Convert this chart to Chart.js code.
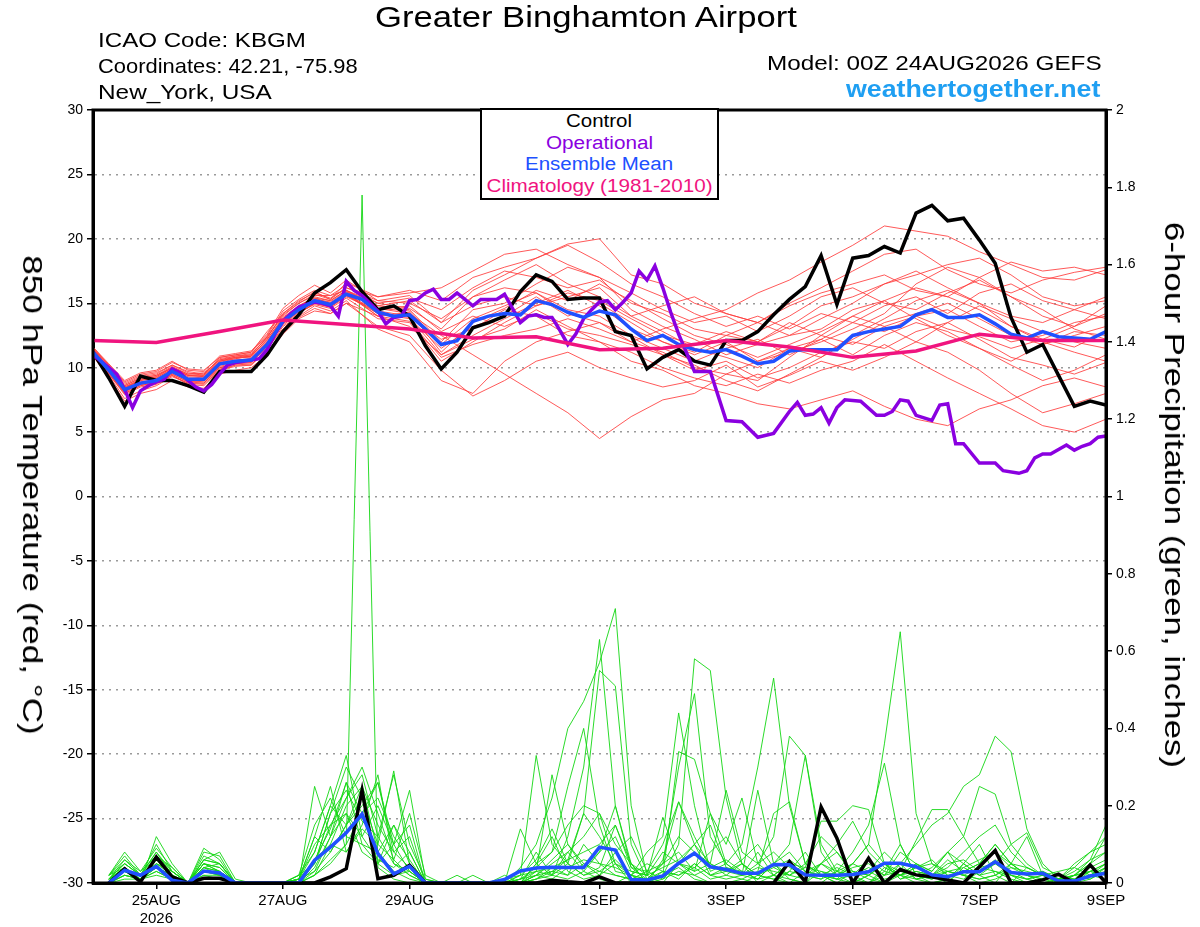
<!DOCTYPE html>
<html>
<head>
<meta charset="utf-8">
<script src="https://cdn.jsdelivr.net/npm/chart.js@4.4.0/dist/chart.umd.min.js"></script>
<style>
  body { margin: 0; background: #fff; font-family: "Liberation Sans", Arial, sans-serif; }
  #wrap { position: relative; width: 1200px; height: 927px; overflow: hidden; }
  canvas { position: absolute; left: 0; top: 0; }
  .t { position: absolute; white-space: nowrap; color: #000; transform-origin: left center; }
  .rot { transform-origin: center center; }
  #legend { position: absolute; left: 480px; top: 108px; width: 235px; height: 87px; border: 2px solid #000;
            background: #fff; text-align: center; font-size: 18px; line-height: 21.7px; padding-top: 1px; }
  #legend span { display: inline-block; white-space: nowrap; transform-origin: center center; }
</style>
</head>
<body>
<div id="wrap">
  <canvas id="chart" width="1200" height="927"></canvas>
  <div class="t" data-w="422" style="left:375px;top:1px;font-size:29px;">Greater Binghamton Airport</div>
  <div class="t" data-w="208" style="left:98px;top:28px;font-size:21px;">ICAO Code: KBGM</div>
  <div class="t" data-w="260" style="left:98px;top:54px;font-size:21px;">Coordinates: 42.21, -75.98</div>
  <div class="t" data-w="174" style="left:98px;top:80px;font-size:21px;">New_York, USA</div>
  <div class="t" data-w="334" style="left:767px;top:51px;font-size:21px;">Model: 00Z 24AUG2026 GEFS</div>
  <div class="t" data-w="255" style="left:846px;top:76px;font-size:23px;font-weight:bold;color:#1f9ff2;">weathertogether.net</div>
  <div class="t rot" data-w="480" data-pre="translate(-50%,-50%) rotate(90deg)" style="left:32px;top:495px;font-size:28px;">850 hPa Temperature (red, °C)</div>
  <div class="t rot" data-w="546" data-pre="translate(-50%,-50%) rotate(90deg)" style="left:1174px;top:495px;font-size:28px;">6-hour Precipitation (green, inches)</div>
  <div id="legend">
    <div><span data-w="66" style="color:#000">Control</span></div>
    <div><span data-w="107" style="color:#8a00e0">Operational</span></div>
    <div><span data-w="148" style="color:#2050ff">Ensemble Mean</span></div>
    <div><span data-w="226" style="color:#f0147f">Climatology (1981-2010)</span></div>
  </div>
</div>
<script>
// forecast hours since 00Z 24AUG2026
const tickHours = [24, 72, 120, 192, 240, 288, 336, 384];
const tickLabels = [['25AUG', '2026'], '27AUG', '29AUG', '1SEP', '3SEP', '5SEP', '7SEP', '9SEP'];

// 6-hourly steps 0..384
const stepHours = [];
for (let h = 0; h <= 384; h += 6) stepHours.push(h);
const precipHours = stepHours.slice(1);

// control run 850 hPa temp
const controlTemp = [11.2, 9.2, 7.0, 9.35, 9.0, 9.0, 8.6, 8.1, 9.7, 9.7, 9.7, 11.0, 12.8, 14.1, 15.8, 16.6, 17.6,
  15.9, 14.5, 14.8, 14.0, 11.7, 9.9, 11.2, 13.1, 13.5, 14.0, 15.9, 17.2, 16.7, 15.3, 15.4, 15.4,
  12.8, 12.5, 9.9, 10.8, 11.4, 10.5, 10.2, 12.1, 12.1, 12.8, 14.1, 15.3, 16.3, 18.7, 14.9, 18.5,
  18.7, 19.4, 18.9, 22.0, 22.6, 21.4, 21.6, 19.9, 18.1, 13.9, 11.2, 11.8, 9.4, 7.0, 7.4, 7.1];

// ensemble mean 850 hPa temp
const meanTemp = [11.2, 9.8, 8.3, 8.8, 9.0, 9.7, 9.1, 9.1, 10.3, 10.5, 10.6, 11.8, 13.6, 14.5, 15.2, 14.9, 15.7,
  15.3, 14.3, 14.0, 14.1, 13.0, 11.8, 12.1, 13.6, 14.0, 14.2, 14.1, 15.2, 14.9, 14.3, 13.9, 14.4,
  14.1, 13.0, 12.1, 12.5, 11.8, 11.4, 11.2, 11.4, 10.9, 10.3, 10.5, 11.3, 11.4, 11.4, 11.4, 12.5,
  12.8, 13.0, 13.2, 14.1, 14.5, 13.9, 13.9, 14.1, 13.4, 12.6, 12.3, 12.8, 12.4, 12.3, 12.2, 12.8];

// operational GFS (3-hourly where visible)
const opHours = [0, 3, 6, 9, 12, 15, 18, 21, 24, 27, 30, 33, 36, 39, 42, 45, 48, 51, 54, 57, 60, 63, 66, 69,
  72, 75, 78, 81, 84, 87, 90, 93, 96, 99, 102, 105, 108, 111, 114, 117, 120, 123, 126, 129, 132, 135,
  138, 141, 144, 147, 150, 153, 156, 159, 162, 165, 168, 171, 174, 177, 180, 183, 186, 189, 192, 195,
  198, 201, 204, 207, 210, 213, 216, 219, 222, 228, 234, 240, 246, 252, 258, 264, 267, 270, 273, 276,
  279, 282, 285, 291, 297, 300, 303, 306, 309, 312, 318, 321, 324, 327, 330, 336, 342, 345, 351, 354,
  357, 360, 363, 369, 372, 375, 378, 381, 384];
const opTemp = [11.0, 10.5, 10.0, 9.5, 8.3, 6.9, 8.2, 8.6, 8.9, 9.1, 9.9, 9.6, 9.0, 8.5, 8.2, 8.7, 9.5, 10.2,
  10.4, 10.5, 10.6, 10.7, 11.4, 12.6, 13.6, 14.2, 14.7, 14.9, 15.1, 15.0, 14.8, 14.0, 16.7, 16.0, 15.6,
  15.0, 14.4, 13.4, 13.9, 14.0, 15.2, 15.3, 15.8, 16.1, 15.3, 15.3, 15.8, 15.3, 14.8, 15.3, 15.3, 15.3,
  15.7, 14.6, 13.5, 14.0, 14.1, 13.9, 13.9, 12.9, 11.8, 12.6, 13.8, 14.5, 15.1, 15.2, 14.5, 15.1, 15.8,
  17.5, 16.8, 17.9, 16.2, 14.3, 12.6, 9.7, 9.7, 5.9, 5.8, 4.6, 4.9, 6.6, 7.3, 6.3, 6.4, 6.9, 5.7, 6.9,
  7.5, 7.4, 6.3, 6.3, 6.6, 7.5, 7.4, 6.3, 5.9, 7.1, 7.2, 4.1, 4.1, 2.6, 2.6, 2.0, 1.8, 2.0, 3.0, 3.3,
  3.3, 4.0, 3.6, 3.9, 4.1, 4.6, 4.7];

// 1981-2010 climatology
const climHours = [0, 24, 48, 72, 96, 120, 144, 168, 192, 216, 240, 264, 288, 312, 336, 360, 384];
const climTemp = [12.1, 11.95, 12.8, 13.7, 13.35, 13.0, 12.3, 12.4, 11.4, 11.5, 12.1, 11.6, 10.8, 11.3, 12.6, 12.1, 12.1];

// ensemble members, 6-hourly to 96 h then 12-hourly
const memberHours = [0, 6, 12, 18, 24, 30, 36, 42, 48, 54, 60, 66, 72, 78, 84, 90, 96,
  108, 120, 132, 144, 156, 168, 180, 192, 204, 216, 228, 240, 252, 264, 276, 288, 300, 312, 324, 336, 348, 360, 372, 384];
const memberTemps = [
  [11.5, 10.2, 8.8, 9.4, 9.6, 10.2, 9.6, 9.4, 10.8, 11.0, 11.2, 12.8, 14.2, 15.2, 15.8, 15.4, 16.2,
   15.5, 16.0, 15.2, 17.0, 17.8, 18.5, 19.6, 20.0, 17.2, 16.5, 15.0, 14.2, 13.5, 15.0, 16.2, 17.5, 18.8, 19.2, 17.6, 16.5, 15.8, 16.8, 17.4, 17.8],
  [11.0, 9.4, 7.6, 8.2, 8.6, 9.3, 8.8, 8.7, 9.8, 10.2, 10.2, 11.4, 13.2, 14.0, 14.8, 14.4, 15.2,
   13.0, 12.0, 9.0, 8.0, 10.5, 12.0, 12.8, 13.5, 12.4, 11.0, 9.8, 10.5, 9.2, 10.0, 11.2, 12.0, 11.5, 12.8, 13.5, 12.2, 10.8, 10.2, 9.5, 10.4],
  [11.3, 9.9, 8.4, 9.0, 9.3, 10.0, 9.4, 9.3, 10.5, 10.8, 10.8, 12.0, 13.8, 14.8, 15.4, 15.2, 16.0,
   14.6, 14.2, 12.5, 11.0, 9.5, 8.0, 6.5, 4.5, 6.2, 7.5, 8.0, 9.5, 9.0, 10.8, 12.5, 11.8, 13.2, 14.0, 13.0, 12.4, 11.5, 12.2, 11.6, 12.8],
  [11.6, 10.3, 9.0, 9.6, 9.8, 10.5, 9.8, 9.7, 10.9, 11.1, 11.3, 12.6, 14.6, 15.6, 16.4, 15.8, 16.8,
   15.2, 15.0, 13.8, 15.5, 16.2, 15.8, 14.2, 13.5, 12.0, 13.0, 13.8, 14.5, 15.8, 16.8, 18.2, 19.5, 21.0, 20.6, 20.2, 19.0, 18.0, 17.0, 16.8, 17.6],
  [10.9, 9.2, 7.4, 8.0, 8.3, 9.0, 8.5, 8.4, 9.5, 9.8, 10.0, 11.0, 12.6, 13.8, 14.4, 14.2, 15.0,
   14.0, 13.2, 11.0, 12.2, 13.0, 14.5, 13.2, 12.0, 10.5, 9.8, 8.6, 8.0, 7.2, 6.8, 7.5, 8.2, 7.0, 6.0, 5.5, 6.8, 7.5, 8.6, 9.2, 8.5],
  [11.4, 10.0, 8.6, 9.2, 9.4, 10.1, 9.5, 9.6, 10.6, 10.9, 11.0, 12.4, 14.0, 15.0, 15.6, 15.6, 16.4,
   15.0, 15.4, 14.5, 16.2, 17.5, 17.0, 16.2, 16.8, 15.0, 14.2, 13.0, 12.5, 12.0, 13.2, 14.8, 15.5, 16.5, 17.2, 18.0, 18.5, 17.2, 15.5, 14.8, 15.2],
  [11.1, 9.6, 8.0, 8.6, 8.9, 9.5, 8.9, 9.0, 10.0, 10.3, 10.4, 11.6, 13.4, 14.3, 14.9, 14.6, 15.4,
   13.8, 13.5, 10.5, 12.0, 13.5, 14.8, 15.5, 16.2, 14.0, 12.8, 11.5, 10.8, 10.0, 11.5, 10.8, 12.2, 13.5, 14.2, 15.0, 13.8, 12.5, 11.8, 12.5, 13.2],
  [11.2, 9.7, 8.2, 8.7, 8.8, 9.4, 8.8, 8.8, 9.9, 10.2, 10.3, 11.2, 12.8, 13.9, 14.6, 14.2, 15.0,
   13.2, 12.5, 9.8, 7.8, 9.0, 10.5, 11.2, 10.0, 9.2, 8.5, 9.0, 10.2, 8.5, 9.4, 10.5, 9.8, 10.8, 12.0, 11.2, 9.8, 8.0, 6.5, 7.2, 8.0],
  [11.5, 10.1, 8.7, 9.3, 9.5, 10.2, 9.7, 9.5, 10.7, 10.9, 11.1, 12.3, 14.2, 15.1, 15.9, 15.3, 16.6,
   15.5, 15.8, 16.2, 17.5, 18.8, 19.2, 18.0, 17.0, 15.8, 14.5, 13.5, 14.0, 12.8, 14.0, 15.5, 16.2, 15.0, 14.5, 15.8, 16.8, 15.5, 14.0, 13.2, 14.2],
  [11.0, 9.5, 7.9, 8.5, 8.7, 9.4, 8.7, 8.6, 9.8, 10.1, 10.2, 11.5, 13.0, 14.2, 15.0, 14.8, 15.6,
   14.5, 14.8, 12.8, 14.0, 13.2, 14.2, 13.0, 12.5, 11.8, 11.0, 10.2, 9.0, 8.2, 9.5, 10.8, 12.5, 13.8, 15.2, 16.0, 15.0, 13.2, 12.0, 11.2, 10.5],
  [11.4, 9.9, 8.5, 9.0, 9.2, 9.9, 9.3, 9.2, 10.4, 10.7, 10.9, 12.1, 13.6, 14.6, 15.4, 15.0, 15.8,
   14.2, 13.8, 11.5, 13.2, 14.0, 15.5, 14.0, 15.0, 13.5, 12.0, 11.0, 12.0, 10.5, 11.2, 12.0, 13.0, 14.2, 16.5, 17.8, 17.0, 15.5, 14.5, 13.0, 12.2],
  [11.3, 9.8, 8.3, 8.9, 9.1, 9.8, 9.2, 9.1, 10.3, 10.6, 10.7, 11.9, 13.5, 14.5, 15.2, 14.9, 15.9,
   14.8, 14.5, 12.0, 14.5, 15.0, 16.5, 17.8, 17.0, 14.5, 13.2, 12.2, 11.0, 11.8, 12.5, 13.0, 14.5, 15.2, 13.8, 12.5, 11.5, 10.2, 9.0, 9.8, 11.0],
  [11.2, 9.7, 8.1, 8.7, 9.0, 9.6, 9.0, 8.9, 10.1, 10.4, 10.5, 11.7, 13.3, 14.2, 15.0, 14.7, 15.5,
   14.4, 14.0, 12.2, 13.0, 14.5, 14.0, 12.5, 12.0, 11.2, 10.0, 9.2, 8.6, 9.5, 8.8, 9.8, 10.5, 11.8, 10.5, 9.2, 8.0, 6.8, 5.5, 5.0, 6.0],
  [11.6, 10.2, 8.9, 9.5, 9.7, 10.4, 9.9, 9.8, 10.8, 11.0, 11.2, 12.5, 14.4, 15.3, 16.0, 15.6, 16.0,
   15.0, 14.6, 13.0, 15.5, 16.8, 18.0, 16.5, 15.5, 14.0, 14.8, 15.5, 14.2, 13.5, 12.5, 13.8, 15.0, 16.5, 17.5, 16.2, 15.0, 14.0, 13.5, 14.5, 15.5],
  [11.0, 9.5, 8.0, 8.6, 8.8, 9.5, 8.9, 8.8, 10.0, 10.3, 10.4, 11.7, 13.4, 14.4, 15.0, 14.7, 15.6,
   14.2, 13.9, 11.0, 12.5, 13.8, 15.0, 16.0, 14.8, 13.0, 12.0, 11.2, 12.5, 13.5, 14.8, 15.8, 16.5, 17.2, 16.0, 15.5, 17.0, 18.2, 17.5, 17.8, 17.2],
  [11.3, 9.9, 8.4, 9.1, 9.2, 9.9, 9.4, 9.4, 10.5, 10.7, 10.9, 12.2, 13.8, 14.7, 15.3, 15.1, 15.9,
   14.6, 14.4, 11.8, 13.8, 14.8, 15.8, 14.5, 14.0, 12.5, 11.5, 10.5, 11.5, 12.2, 11.0, 12.2, 13.5, 12.8, 14.0, 14.5, 13.2, 12.0, 12.5, 13.5, 14.0],
  [11.1, 9.6, 8.1, 8.8, 9.0, 9.6, 9.1, 9.0, 10.2, 10.5, 10.6, 11.8, 13.5, 14.4, 15.1, 14.8, 15.7,
   14.0, 14.3, 11.2, 13.5, 14.6, 16.0, 15.2, 16.5, 15.2, 13.8, 12.5, 11.8, 10.8, 11.8, 12.8, 14.0, 13.2, 12.0, 13.5, 14.8, 13.8, 12.8, 12.0, 11.5],
  [11.5, 10.0, 8.6, 9.2, 9.4, 10.0, 9.5, 9.5, 10.6, 10.8, 11.0, 12.4, 14.1, 15.0, 15.7, 15.3, 16.2,
   15.2, 15.6, 13.5, 16.0, 17.2, 18.5, 19.5, 18.2, 16.5, 15.5, 14.2, 13.2, 14.0, 13.0, 14.2, 13.5, 14.8, 15.5, 14.2, 15.8, 16.5, 15.2, 14.5, 13.8],
  [11.2, 9.7, 8.2, 8.8, 9.0, 9.7, 9.0, 9.0, 10.2, 10.5, 10.6, 11.8, 13.6, 14.6, 15.2, 15.0, 15.8,
   14.0, 13.6, 10.8, 11.8, 12.5, 13.0, 13.8, 13.0, 12.0, 11.2, 10.0, 9.5, 10.5, 11.5, 12.2, 11.0, 12.5, 13.5, 12.8, 11.5, 10.5, 11.8, 12.8, 12.5],
  [11.4, 10.0, 8.5, 9.1, 9.3, 10.0, 9.4, 9.3, 10.5, 10.8, 10.9, 12.2, 13.9, 14.8, 15.5, 15.2, 16.0,
   14.8, 15.2, 13.5, 14.8, 15.5, 14.8, 15.8, 15.2, 13.8, 12.5, 11.8, 12.8, 12.0, 13.5, 12.5, 14.0, 15.2, 16.2, 15.5, 14.5, 13.2, 12.2, 13.2, 14.8]
];

// 6-hour precipitation (inches), valid 6..384 h
const controlPrecip = [0, .037, .003, .067, .016, 0, .012, .012, 0, 0, 0, 0, 0, 0, .016, .037,
  .24, .011, .02, .046, 0, 0, 0, 0, 0, 0, 0, 0, .007, .003, 0, .016,
  0, 0, 0, 0, 0, 0, 0, 0, 0, 0, 0, .055, .003, .197, .116, 0,
  .064, 0, .035, .021, .016, .008, 0, .042, .084, 0, 0, .008, .023, 0, .047, 0];
const meanPrecip = [0, .033, .02, .043, .007, 0, .031, .026, 0, 0, 0, 0, 0, .059, .093, .13,
  .178, .076, .024, .043, 0, 0, 0, 0, 0, .009, .031, .039, .041, .04, .04, .093,
  .085, .009, .008, .018, .051, .077, .042, .035, .025, .025, .048, .047, .021, .02, .02, .022,
  .029, .051, .051, .042, .021, .016, .029, .029, .055, .027, .023, .025, .005, .005, .018, .025];
const memberPrecips = [
  [0, .03, .01, .05, .02, 0, .04, .03, 0, 0, 0, 0, 0, .02, .06, .10,
   1.78, .04, .01, 0, 0, 0, 0, 0, 0, 0, 0, .05, .12, .03, .01, .02,
   .05, 0, 0, .02, .04, .01, 0, 0, 0, .02, .05, .01, 0, 0, .03, .01,
   0, .04, .02, 0, 0, .01, 0, .03, .06, .02, 0, 0, .01, 0, .02, .04],
  [.02, .06, .02, .08, .03, 0, .07, .05, 0, 0, 0, 0, .01, .12, .25, .08,
   .15, .28, .05, .02, 0, 0, 0, 0, 0, 0, .04, .10, .22, .40, .47, .57,
   .71, .20, .02, 0, .05, .02, 0, 0, .01, 0, 0, .03, .08, .02, 0, 0,
   .02, 0, .05, .01, 0, 0, .04, .02, 0, .05, .12, .02, 0, 0, .01, .03],
  [.01, .04, 0, .12, .05, 0, .06, .08, .01, 0, 0, 0, .02, .05, .18, .30,
   .22, .10, .29, .05, 0, 0, 0, 0, 0, 0, .14, .05, .02, .12, .30, .63,
   .20, .05, 0, .02, .10, .58, .55, .22, .05, 0, .02, .01, 0, .05, .02, 0,
   0, .03, .10, .02, 0, .01, .05, .02, .03, .01, 0, 0, 0, .02, .05, .12],
  [0, .02, .01, .03, .01, 0, .03, .02, 0, 0, 0, 0, 0, .25, .12, .18,
   .08, .05, .10, .24, .01, 0, 0, .02, 0, .01, .02, .33, .10, .05, .18, .55,
   .51, .10, .01, .05, .30, .49, .12, .05, .02, .08, .02, 0, 0, .03, .01, 0,
   .02, .05, .01, .03, .02, 0, .05, .10, .02, 0, .04, .02, 0, 0, .03, .02],
  [.01, .05, .02, .06, .02, 0, .05, .04, 0, 0, 0, 0, .01, .08, .20, .33,
   .12, .06, .04, .08, 0, 0, 0, 0, 0, 0, .01, .03, .28, .10, .05, .03,
   .02, .01, 0, .03, .01, .05, .02, .04, .03, .01, .05, .10, .33, .08, .02, .05,
   .10, .36, .65, .18, .05, .02, .01, .04, .05, .02, .01, 0, 0, .02, .06, .15],
  [.02, .08, .03, .09, .04, 0, .09, .06, 0, 0, 0, 0, .01, .10, .15, .22,
   .28, .12, .05, .03, 0, 0, 0, 0, 0, .02, 0, .05, .08, .15, .20, .18,
   .05, .02, .08, .12, .44, .20, .03, .05, .10, .30, .53, .20, .05, .02, 0, .03,
   .01, 0, .02, .05, .03, .08, .02, 0, .01, .03, .02, .01, 0, 0, .02, .01],
  [0, .01, .01, .02, .01, 0, .02, .01, 0, 0, 0, 0, 0, .04, .12, .22,
   .30, .18, .06, .02, 0, 0, 0, 0, 0, 0, 0, .02, .05, .08, .03, .01,
   0, .02, .05, .03, .02, .04, .01, .02, .05, .02, .01, 0, .03, .05, .08, .02,
   0, .02, .05, .10, .15, .18, .25, .28, .38, .34, .14, .05, .01, 0, .02, .05],
  [.01, .03, .01, .05, .03, 0, .05, .03, 0, 0, 0, 0, .02, .15, .22, .12,
   .10, .08, .15, .05, 0, 0, 0, 0, 0, 0, .01, .08, .02, .05, .02, .04,
   .15, .05, 0, .06, .21, .10, .05, .24, .08, .05, .12, .38, .33, .10, .03, .08,
   .15, .31, .10, .02, .01, .03, .02, .01, .02, .05, .02, 0, .01, .02, .01, .04],
  [.02, .05, .02, .07, .04, 0, .06, .05, 0, 0, 0, 0, .01, .06, .14, .26,
   .18, .22, .12, .06, 0, 0, 0, 0, 0, 0, .02, .03, .04, .06, .18, .12,
   .05, .03, .02, .17, .05, .03, .18, .05, .02, .24, .05, .02, .04, .16, .16, .20,
   .19, .05, .03, .11, .19, .19, .12, .25, .23, .10, .05, .02, 0, .02, .05, .08],
  [0, .02, .01, .04, .02, 0, .03, .02, 0, 0, 0, 0, 0, .03, .08, .15,
   .20, .26, .08, .04, 0, 0, 0, 0, 0, 0, 0, .02, .06, .10, .04, .08,
   .20, .04, .01, .02, .34, .32, .18, .10, .22, .05, .02, .05, .02, .01, .05, .03,
   .02, .05, .01, .02, .04, .08, .05, .02, .05, .10, .13, .04, .02, .01, .03, .05],
  [.01, .04, .01, .06, .02, 0, .04, .03, 0, 0, 0, 0, .01, .05, .18, .24,
   .16, .12, .28, .10, .01, 0, 0, 0, 0, 0, 0, .01, .03, .02, .10, .05,
   .02, .01, .03, .05, .08, .03, .05, .02, .01, .03, .18, .21, .05, .02, .01, .05,
   .10, .05, .02, .05, .03, .08, .12, .05, .10, .05, .02, .01, .02, .01, .02, .04],
  [.02, .07, .02, .10, .03, 0, .08, .07, 0, 0, 0, 0, .02, .08, .20, .15,
   .25, .15, .08, .12, 0, 0, .02, 0, 0, 0, .02, .06, .14, .05, .02, .03,
   .06, .02, 0, .01, .03, .02, .04, .06, .03, .01, .02, .05, .04, .03, .02, .04,
   .05, .02, .08, .05, .02, .06, .03, .05, .08, .05, .02, .03, .01, .04, .08, .10],
  [0, .03, .01, .04, .02, 0, .04, .02, 0, 0, 0, 0, 0, .02, .10, .20,
   .25, .08, .03, .01, 0, 0, 0, 0, 0, 0, 0, .01, .02, .08, .12, .18,
   .10, .05, .02, .08, .05, .10, .02, .01, .02, .04, .03, .02, .01, .05, .10, .16,
   .08, .04, .02, .03, .02, .05, .06, .03, .05, .03, .01, .02, .01, .03, .06, .08],
  [.01, .05, .02, .05, .03, 0, .05, .04, 0, 0, 0, 0, .01, .12, .08, .15,
   .22, .05, .02, .03, 0, 0, 0, 0, 0, 0, .01, .04, .08, .25, .40, .15,
   .03, .02, .01, .05, .12, .08, .05, .03, .02, .01, .05, .08, .03, .02, .04, .02,
   .03, .08, .04, .01, .02, .04, .08, .12, .15, .08, .04, .02, .01, .01, .04, .06],
  [.01, .03, .02, .08, .02, 0, .04, .05, 0, 0, 0, 0, 0, .05, .15, .18,
   .12, .20, .10, .15, 0, 0, 0, 0, 0, 0, 0, .02, .03, .06, .08, .10,
   .15, .04, .03, .10, .21, .12, .04, .03, .05, .02, .01, .03, .02, .05, .03, .02,
   .04, .02, .03, .02, .01, .03, .02, .01, .02, .04, .03, .02, .01, .02, .03, .02],
  [.02, .04, .01, .04, .02, 0, .05, .03, 0, 0, 0, 0, 0, .06, .10, .08,
   .14, .10, .06, .18, .02, 0, 0, 0, 0, 0, .01, .02, .01, .04, .06, .05,
   .04, .02, .01, .03, .02, .05, .02, .03, .06, .10, .04, .02, .05, .12, .08, .03,
   .02, .05, .02, .04, .06, .02, .03, .05, .10, .05, .04, .02, .01, .02, .03, .05],
  [0, .02, .01, .03, .01, 0, .02, .02, 0, 0, 0, 0, 0, .02, .05, .10,
   .18, .26, .10, .03, 0, 0, 0, 0, 0, 0, 0, .01, .04, .02, .05, .02,
   .08, .12, .03, .01, .05, .04, .08, .12, .05, .02, .04, .06, .03, .02, .01, .02,
   .06, .03, .02, .01, .02, .03, .04, .06, .08, .04, .02, .03, .01, .05, .08, .12],
  [.01, .06, .03, .07, .03, 0, .06, .05, 0, 0, 0, 0, .01, .03, .12, .26,
   .10, .05, .15, .08, 0, 0, 0, 0, 0, 0, 0, .03, .02, .01, .03, .08,
   .12, .03, .02, .04, .06, .10, .15, .04, .02, .05, .08, .04, .02, .01, .03, .05,
   .03, .01, .02, .04, .05, .03, .02, .04, .03, .02, .01, .02, .03, .04, .02, .03]
];

const FONT = '"Liberation Sans", Arial, sans-serif';

// stretch header texts to the widths they have in the original image
function fitText() {
    document.querySelectorAll('[data-w]').forEach(el => {
        const k = +el.dataset.w / el.offsetWidth;
        el.style.transform = (el.dataset.pre || '') + ' scaleX(' + k.toFixed(3) + ')';
    });
}
fitText();

function pts(xs, ys) {
    return ys.map((y, i) => ({ x: xs[i], y: y }));
}

const datasets = [];

// order: lower value is painted on top
datasets.push({ label: 'Climatology', data: pts(climHours, climTemp), yAxisID: 'y',
    borderColor: '#f0147f', borderWidth: 3.5, order: 1 });
datasets.push({ label: 'Mean precip', data: pts(precipHours, meanPrecip), yAxisID: 'y2',
    borderColor: '#2050ff', borderWidth: 3.5, order: 2 });
datasets.push({ label: 'Ensemble Mean', data: pts(stepHours, meanTemp), yAxisID: 'y',
    borderColor: '#2050ff', borderWidth: 3.5, order: 2 });
datasets.push({ label: 'Operational', data: pts(opHours, opTemp), yAxisID: 'y',
    borderColor: '#8a00e0', borderWidth: 3.5, order: 3 });
datasets.push({ label: 'Control precip', data: pts(precipHours, controlPrecip), yAxisID: 'y2',
    borderColor: '#000', borderWidth: 3.5, order: 4 });
datasets.push({ label: 'Control', data: pts(stepHours, controlTemp), yAxisID: 'y',
    borderColor: '#000', borderWidth: 3.5, order: 4 });

memberTemps.forEach((m, i) => {
    datasets.push({ label: 'm' + i, data: pts(memberHours, m), yAxisID: 'y',
        borderColor: 'rgba(255,60,60,0.85)', borderWidth: 1, order: 10 });
});
memberPrecips.forEach((m, i) => {
    datasets.push({ label: 'p' + i, data: pts(precipHours, m), yAxisID: 'y2',
        borderColor: 'rgba(20,215,20,0.9)', borderWidth: 1, order: 11 });
});

const frame = {
    id: 'frame',
    afterDraw(chart) {
        const { ctx, chartArea: a } = chart;
        ctx.save();
        ctx.strokeStyle = '#000';
        ctx.lineWidth = 3;
        ctx.strokeRect(a.left, a.top, a.right - a.left, a.bottom - a.top);
        ctx.restore();
    }
};

const tickFont = { family: FONT, size: 14 };

new Chart(document.getElementById('chart').getContext('2d'), {
    type: 'line',
    data: { datasets },
    plugins: [frame],
    options: {
        responsive: false,
        animation: false,
        devicePixelRatio: 1,
        layout: { padding: { top: 110, left: 0, right: 0, bottom: 0 } },
        elements: { point: { radius: 0 }, line: { tension: 0, fill: false } },
        plugins: { legend: { display: false }, tooltip: { enabled: false } },
        scales: {
            x: {
                type: 'linear', min: 0, max: 384,
                afterBuildTicks(scale) { scale.ticks = tickHours.map(v => ({ value: v })); },
                afterFit(scale) { scale.height = 44; },
                ticks: {
                    autoSkip: false, maxRotation: 0, padding: 3, color: '#000',
                    font: { family: FONT, size: 15 },
                    callback: (v, i) => tickLabels[i]
                },
                grid: { drawOnChartArea: false, drawTicks: true, tickLength: 6, tickColor: '#000', lineWidth: 1.5 },
                border: { display: true, color: '#000', width: 3 }
            },
            y: {
                position: 'left', min: -30, max: 30,
                afterFit(scale) { scale.width = 93; },
                ticks: { stepSize: 5, padding: 4, color: '#000', font: tickFont },
                grid: { color: '#9a9a9a', lineWidth: 1.5, drawTicks: true, tickLength: 6, tickColor: '#000' },
                border: { display: true, color: '#000', width: 3, dash: [2, 5] }
            },
            y2: {
                position: 'right', min: 0, max: 2,
                afterFit(scale) { scale.width = 94; },
                ticks: { stepSize: 0.2, padding: 4, color: '#000', font: tickFont,
                    callback: v => String(Number(v.toFixed(1))) },
                grid: { drawOnChartArea: false, drawTicks: true, tickLength: 6, tickColor: '#000', lineWidth: 1.5 },
                border: { display: true, color: '#000', width: 3 }
            }
        }
    }
});
</script>
</body>
</html>
